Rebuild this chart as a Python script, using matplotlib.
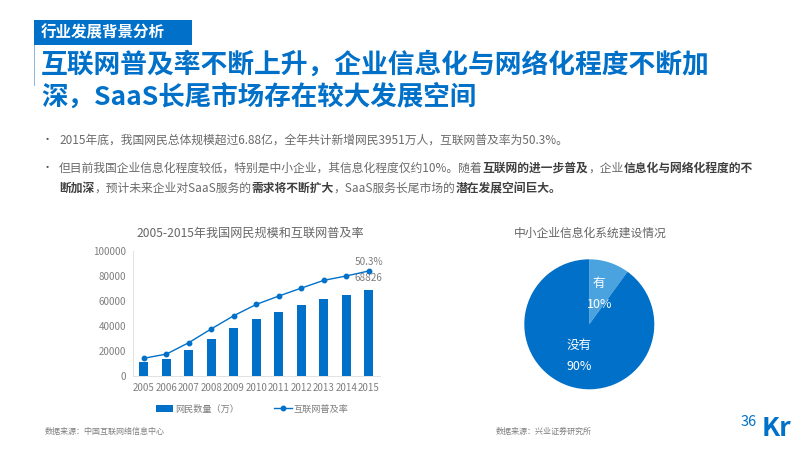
import matplotlib
matplotlib.use('Agg')
import matplotlib.pyplot as plt
from matplotlib.patches import Rectangle

plt.rcParams['font.family'] = ['Noto Sans CJK SC', 'DejaVu Sans']

years = ['2005', '2006', '2007', '2008', '2009', '2010', '2011', '2012', '2013', '2014', '2015']
netizens = [11100, 13700, 21000, 29800, 38400, 45700, 51300, 56400, 61800, 64900, 68826]
rate = [8.5, 10.5, 16.0, 22.6, 28.9, 34.3, 38.3, 42.1, 45.8, 47.9, 50.3]
yticks = [0, 20000, 40000, 60000, 80000, 100000]
pie_labels = ['有', '没有']
pie_values = [10, 90]

BLUE = '#0070c8'
LIGHT = '#4aa3df'
GREY = '#7f7f7f'
W, H = 800, 450

fig = plt.figure(figsize=(8, 4.5), dpi=100)


def px(x, y):
    return x / W, 1 - y / H


def axes_px(x0, y0, x1, y1):
    return fig.add_axes([x0 / W, 1 - y1 / H, (x1 - x0) / W, (y1 - y0) / H])


def label(x, y, s, size, color=GREY, ha='left', weight='normal'):
    fx, fy = px(x, y)
    return fig.text(fx, fy, s, fontsize=size, color=color, ha=ha, va='center', fontweight=weight)


def runs(x, y, parts, size):
    # bold and normal pieces on one line
    r = fig.canvas.get_renderer()
    for s, bold in parts:
        t = label(x, y, s, size, '#404040' if bold else '#6a6a6a', weight='bold' if bold else 'normal')
        x += t.get_window_extent(r).width


# header
fig.add_artist(Rectangle((34 / W, 1 - 45 / H), 158 / W, 25 / H, transform=fig.transFigure, color=BLUE, lw=0))
fig.add_artist(Rectangle((34 / W, 1 - 86 / H), 1 / W, 41 / H, transform=fig.transFigure, color='#8fb8dc', lw=0))
label(41, 32.5, '行业发展背景分析', 11.2, 'white', weight='bold')
label(41, 65, '互联网普及率不断上升，企业信息化与网络化程度不断加', 19.3, BLUE, weight='bold')
label(41, 97, '深，SaaS长尾市场存在较大发展空间', 19.1, BLUE, weight='bold')

# body text
label(42, 140, '•', 8, '#555555')
label(42, 168, '•', 8, '#555555')
runs(59, 140, [('2015年底，我国网民总体规模超过6.88亿，全年共计新增网民3951万人，互联网普及率为50.3%。', False)], 8.5)
runs(59, 168, [('但目前我国企业信息化程度较低，特别是中小企业，其信息化程度仅约10%。随着', False),
               ('互联网的进一步普及', True), ('，企业', False), ('信息化与网络化程度的不', True)], 8.5)
runs(59, 188, [('断加深', True), ('，预计未来企业对SaaS服务的', False), ('需求将不断扩大', True),
               ('，SaaS服务长尾市场的', False), ('潜在发展空间巨大。', True)], 8.5)

# bar + line chart
ax = axes_px(132.75, 250.7, 380, 376)
x = range(len(years))
bars = ax.bar(x, netizens, width=0.4, color=BLUE, label='网民数量（万）')
ax.set_xlim(-0.5, 10.5)
ax.set_ylim(0, 100000)
ax.set_yticks(yticks)
ax.set_xticks(list(x), years)
ax.tick_params(length=0, labelsize=7, labelcolor=GREY, pad=5)
for s in ['top', 'right']:
    ax.spines[s].set_visible(False)
for s in ['left', 'bottom']:
    ax.spines[s].set_color('#e2e2e2')
    ax.spines[s].set_linewidth(0.7)

ax2 = ax.twinx()
line, = ax2.plot(x, rate, color=BLUE, lw=1.0, marker='o', ms=3.2, label='互联网普及率')
ax2.set_ylim(0, 60)
ax2.axis('off')
ax2.text(10, rate[-1] + 4.5, '50.3%', fontsize=7.2, color=GREY, ha='center', va='center')
ax.text(10, netizens[-1] + 9000, str(netizens[-1]), fontsize=7.2, color=GREY, ha='center', va='center')

label(250, 233, '2005-2015年我国网民规模和互联网普及率', 8.7, '#666666', ha='center')
fig.legend([bars, line], ['网民数量（万）', '互联网普及率'], loc='center', bbox_to_anchor=px(252, 409),
           ncol=2, frameon=False, fontsize=6.6, labelcolor=GREY, columnspacing=3.9, handlelength=1.9,
           handletextpad=0.2)
label(45, 431, '数据来源：中国互联网络信息中心', 5.8)

# pie
ax3 = axes_px(524.3, 259.3, 654.3, 389.3)
ax3.pie(pie_values, colors=[LIGHT, BLUE], startangle=90, counterclock=False, radius=1,
        wedgeprops={'linewidth': 0})
ax3.set_xlim(-1, 1)
ax3.set_ylim(-1, 1)
label(590, 233, '中小企业信息化系统建设情况', 8.5, '#666666', ha='center')
label(599, 284, pie_labels[0], 9, 'white', ha='center')
label(600, 304, f'{pie_values[0]}%', 9, 'white', ha='center')
label(579, 346, pie_labels[1], 9, 'white', ha='center')
label(579, 366, f'{pie_values[1]}%', 9, 'white', ha='center')
label(496, 431, '数据来源：兴业证券研究所', 5.8)

# logo
label(741, 422, '36', 10.5, BLUE)
label(762, 428, 'Kr', 19, BLUE, weight='bold')

fig.savefig('out.png', dpi=100)
